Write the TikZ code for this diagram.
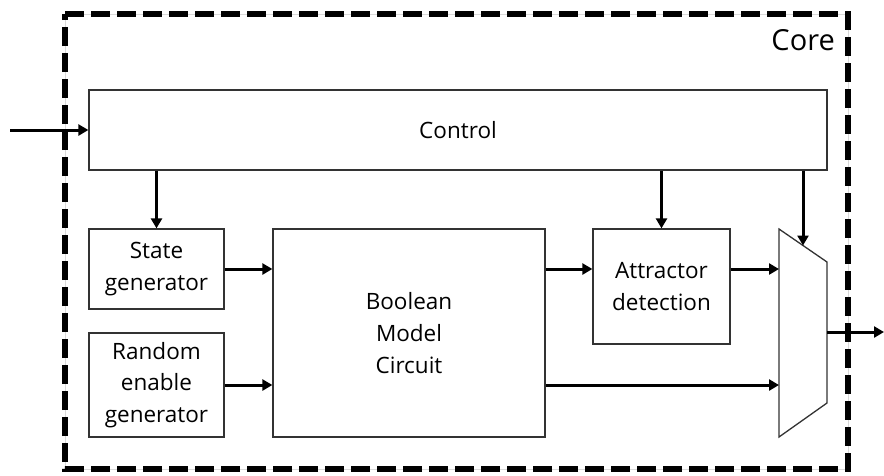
\documentclass[tikz,border=0pt]{standalone}
\usepackage{fontspec}
\setmainfont{Open Sans}
\usetikzlibrary{arrows.meta,calc}
\begin{document}
\begin{tikzpicture}[x=1pt,y=-1pt,
  blk/.style={draw=black!80,line width=1.3pt,fill=white,inner sep=2pt,align=center,
    font=\fontsize{22.5}{31.7}\selectfont},
  sig/.style={line width=3pt,-{Triangle[length=10pt,width=11pt]}},
  corefr/.style={line width=6pt,dash pattern=on 19pt off 7pt}]
\useasboundingbox (0,0) rectangle (884,475);

% core boundary: faint guide line under the thick dashes
\draw[black!15,line width=0.6pt] (65,14) rectangle (848,469);
\draw[corefr] (65,14) -- (848,14) -- (848,469) -- (65,469) -- cycle;
\node[anchor=base east,inner sep=0pt,font=\fontsize{29}{34}\selectfont] (corelbl) at (835,50) {Core};

% blocks
\node[blk,minimum width=738pt,minimum height=80pt] (ctrl) at (458,130) {Control};
\node[blk,minimum width=135pt,minimum height=80pt] (state) at (156.5,269) {State\\generator};
\node[blk,minimum width=135pt,minimum height=104pt] (rand) at (156.5,385) {Random\\enable\\generator};
\node[blk,minimum width=272pt,minimum height=208pt] (bmc) at (409,333) {Boolean\\Model\\Circuit};
\node[blk,minimum width=137pt,minimum height=115pt] (attr) at (661.5,286.5) {Attractor\\detection};

% multiplexer
\coordinate (mtl) at (779,229);
\coordinate (mtr) at (827,262);
\coordinate (mbr) at (827,403);
\coordinate (mbl) at (779,437);
\draw[black!80,line width=1.3pt,fill=white] (mtl) -- (mtr) -- (mbr) -- (mbl) -- cycle;
\coordinate (msel) at ($(mtl)!0.5!(mtr)$);
\coordinate (mout) at ($(mtr)!0.5!(mbr)$);

% external ports
\coordinate (inp) at (10,130);
\coordinate (outp) at (884,332);

% connections
\draw[sig] (inp) -- (ctrl.west);
\draw[sig] (ctrl.south -| state.north) -- (state.north);
\draw[sig] (ctrl.south -| attr.north) -- (attr.north);
\draw[sig] (ctrl.south -| msel) -- (msel);
\draw[sig] (state.east) -- (state.east -| bmc.west);
\draw[sig] (rand.east) -- (rand.east -| bmc.west);
\draw[sig] (bmc.east |- state.east) -- (attr.west |- state.east);
\draw[sig] (attr.east |- state.east) -- (mtl |- state.east);
\draw[sig] (bmc.east |- rand.east) -- (mtl |- rand.east);
\draw[sig] (mtr |- outp) -- (outp);
\end{tikzpicture}
\end{document}
